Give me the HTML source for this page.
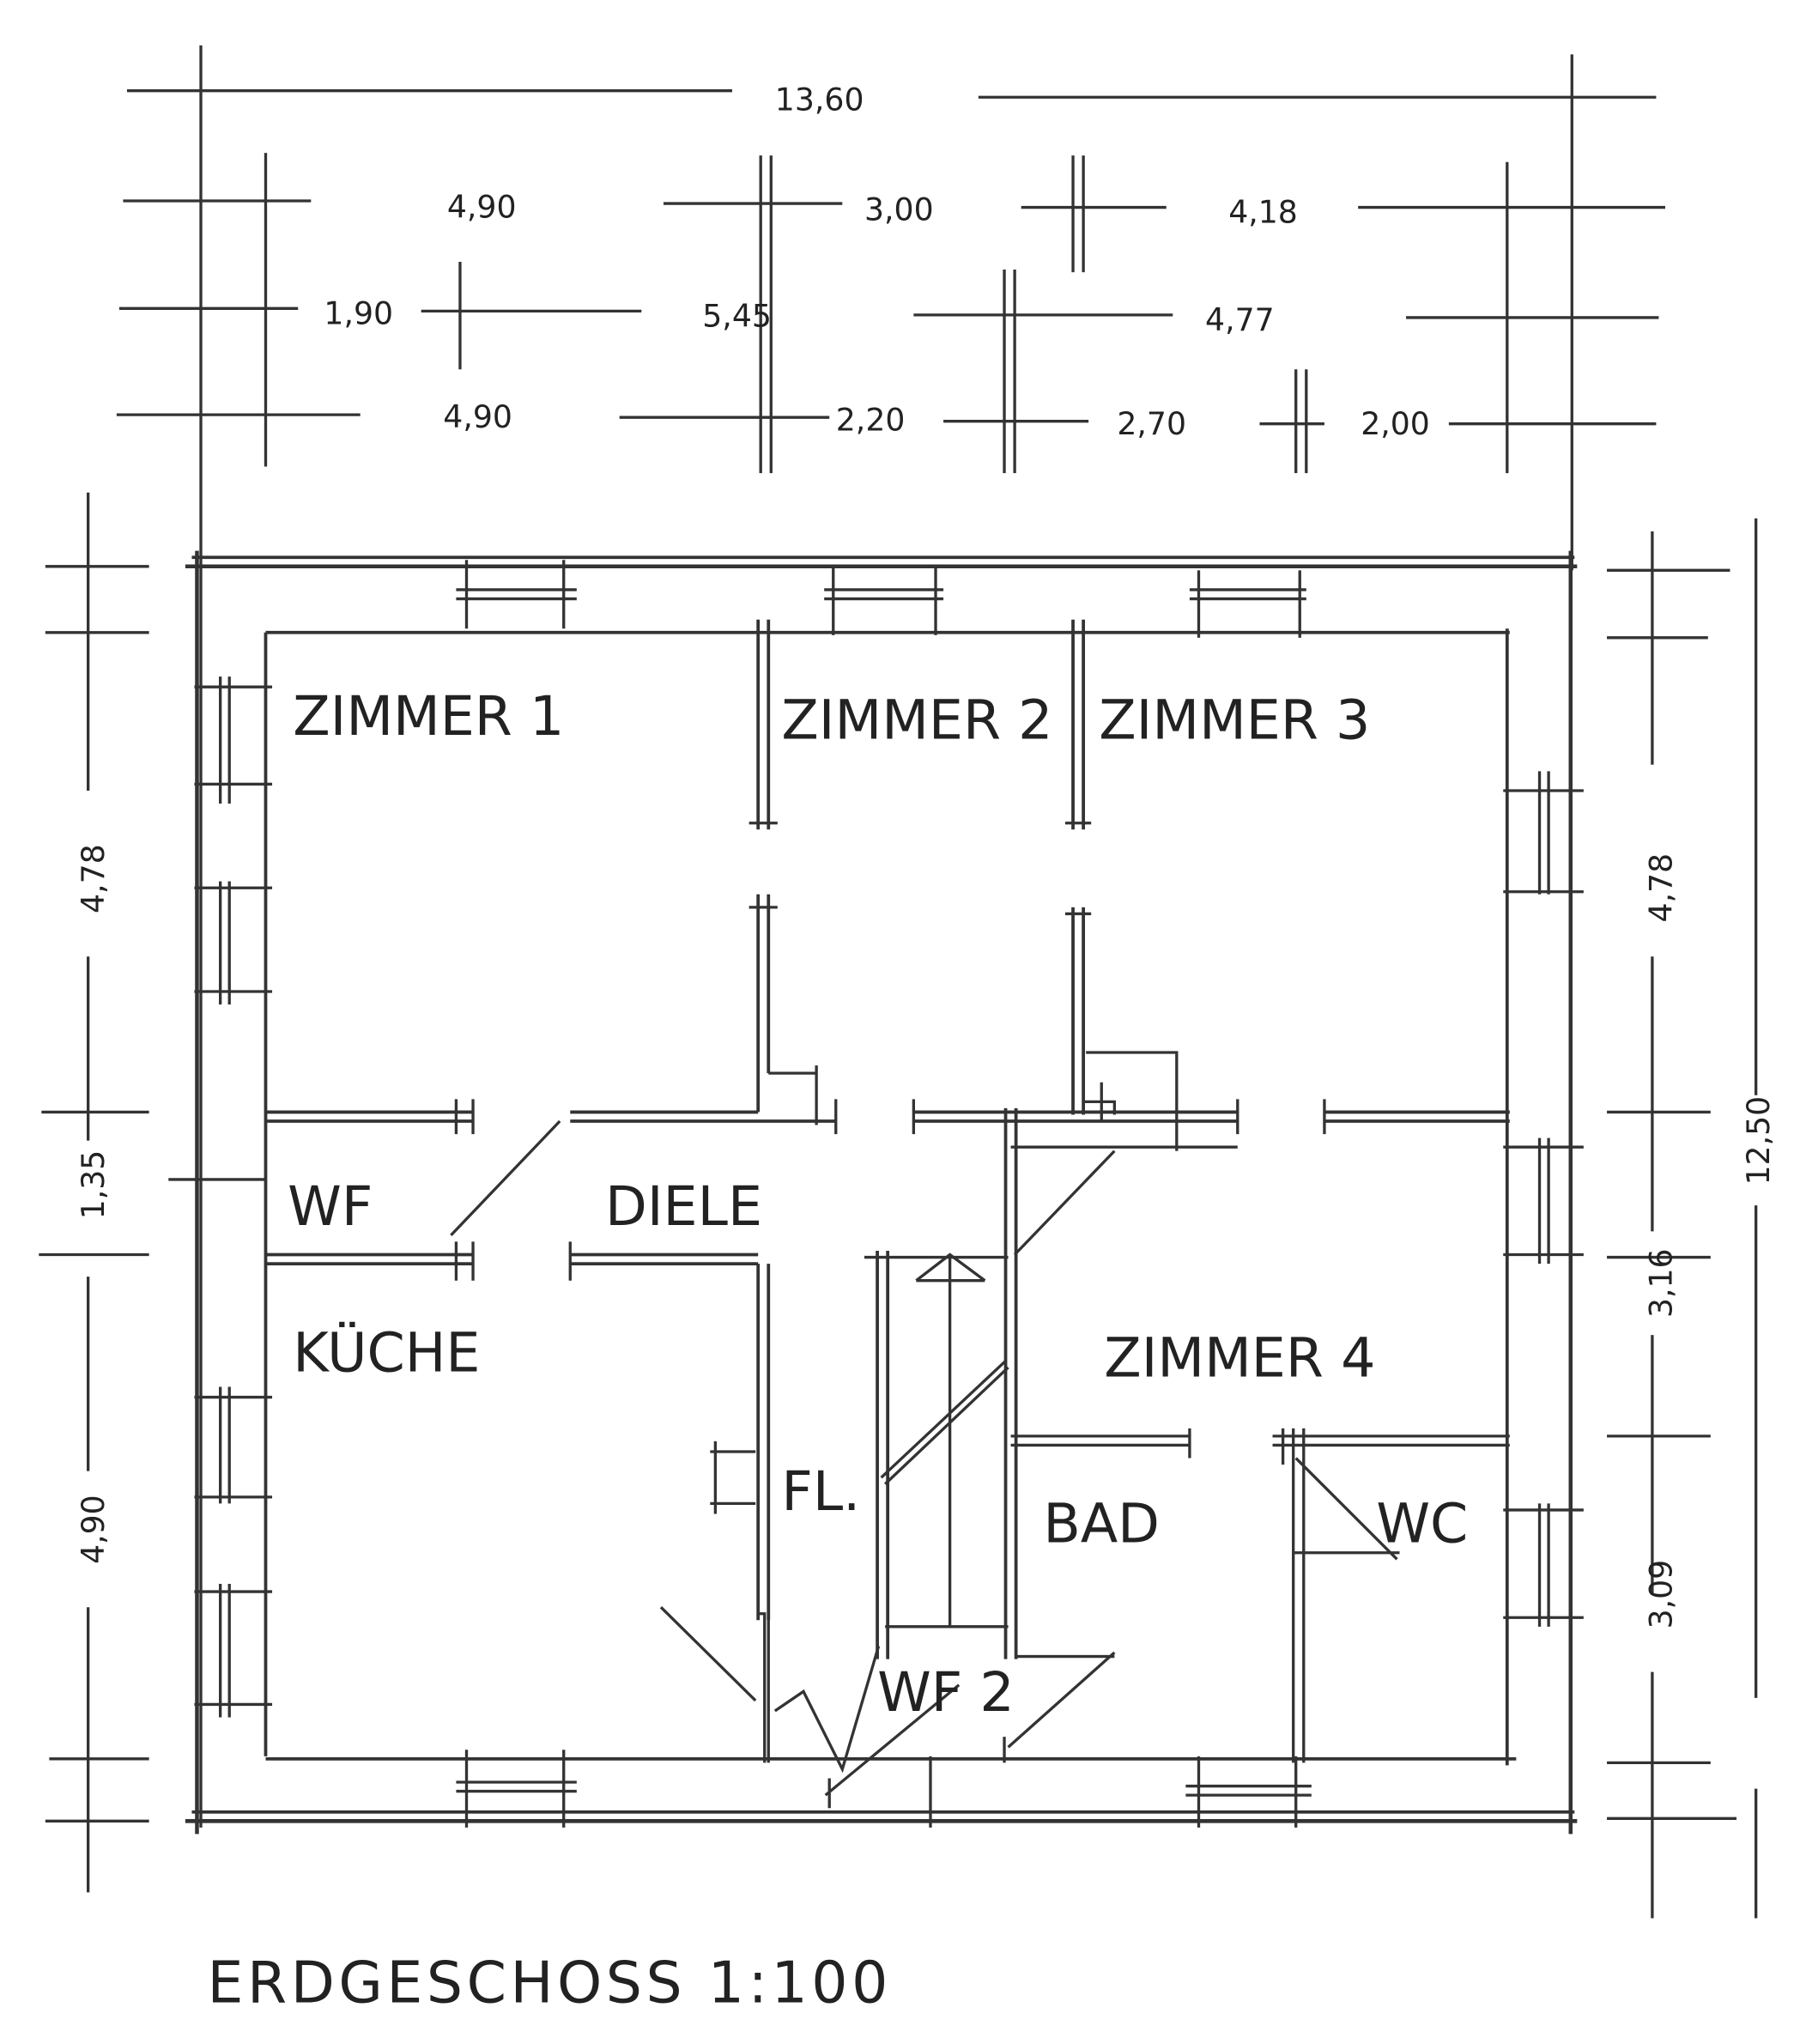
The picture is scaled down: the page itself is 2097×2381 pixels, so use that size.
<!DOCTYPE html><html><head><style>html,body{margin:0;padding:0;background:#fff}svg{display:block}
text{font-family:"DejaVu Sans","Liberation Sans",sans-serif;fill:#222}</style></head><body>
<svg width="2097" height="2381" viewBox="0 0 1389 1577" preserveAspectRatio="none" xmlns="http://www.w3.org/2000/svg">
<g stroke="#333" stroke-width="2.2" fill="none">
<path d="M98 70H565M755 75H1278"/>
<path d="M95 155H240M512 157H650M788 160H900M1048 160H1285"/>
<path d="M92 238H230M325 240H495M705 243H905M1085 245H1280"/>
<path d="M90 320H278M478 322H640M728 325H840M972 327H1022M1118 327H1278"/>
<path d="M155 35V1410M205 118V360M355 202V285M587 120V365M595 120V365M828 120V210M836 120V210M775 208V365M783 208V365M1000 285V365M1008 285V365M1163 125V365M1213 42V440"/>
<path stroke-width="3" d="M143 437H1217M143 1405H1217M152 425V1415M1212 425V1415"/>
<path stroke-width="2.5" d="M148 430H1215M148 1398H1215"/>
<path stroke-width="2.5" d="M205 488H1165M205 1357H1170M205 488V1355M1163 485V1362"/>
<path d="M352 455H445M352 462H445M360 432V485M435 432V485M636 455H728M636 462H728M643 438V490M722 438V490M918 455H1008M918 462H1008M925 440V492M1003 440V492"/>
<path d="M352 1375H445M352 1382H445M360 1350V1410M435 1350V1410M915 1378H1012M915 1385H1012M925 1355V1410M1000 1355V1410"/>
<path d="M170 522V620M177 522V620M150 530H210M150 605H210M170 680V775M177 680V775M150 685H210M150 765H210M170 1070V1160M177 1070V1160M150 1078H210M150 1155H210M170 1222V1325M177 1222V1325M150 1228H210M150 1315H210"/>
<path d="M1188 595V690M1195 595V690M1160 610H1222M1160 688H1222M1188 878V975M1195 878V975M1160 885H1222M1160 968H1222M1188 1160V1255M1195 1160V1255M1160 1165H1222M1160 1248H1222"/>
<path stroke-width="2.5" d="M585 478V640M593 478V640M585 690V858M593 690V828M828 478V640M836 478V640M828 700V860M836 700V860"/>
<path d="M578 635H600M578 700H600M822 635H842M822 705H842M593 828H630V860M630 822V868M836 850H860V860M838 812H908V888M850 835V865"/>
<path stroke-width="2.5" d="M205 858H365M205 865H365M440 858H585M440 865H645M705 858H955M705 865H955M1022 858H1165M1022 865H1165"/>
<path stroke-width="2.5" d="M205 968H365M205 975H365M440 968H585M440 975H585"/>
<path d="M365 848V875M352 848V875M365 958V988M352 958V988M440 958V988M645 848V875M705 848V875M955 848V875M1022 848V875M780 885H955"/>
<path d="M348 953L432 865"/>
<path stroke-width="2.5" d="M585 975V1250M593 975V1250M677 965V1280M685 965V1280M776 855V1280M784 855V1280"/>
<path d="M667 970H778M707 988H760M733 968V1255M707 988L733 968L760 988M680 1140L776 1050M683 1145L778 1055M683 1255H778M548 1120H583M548 1160H583M552 1112V1168M783 968L860 888M780 1108H918M780 1115H918M918 1102V1125M982 1108H1165M982 1115H1165M990 1102V1130M998 1102V1360M1006 1102V1360M998 1198H1080M1000 1125L1078 1203M510 1240L583 1312M585 1245H590V1360M593 1245V1360M598 1320L620 1305L650 1365L678 1270M637 1385L740 1300M718 1355V1410M778 1348L860 1275M783 1278H860M775 1340V1360M640 1372V1395"/>
<path d="M68 380V610M68 738V880M68 985V1135M68 1240V1460M35 437H115M35 488H115M32 858H115M30 968H115M38 1357H115M35 1405H115M130 910H205"/>
<path d="M1275 410V590M1275 738V950M1275 1030V1230M1275 1290V1480M1355 400V845M1355 930V1310M1355 1380V1480M1240 440H1335M1240 492H1318M1240 858H1320M1240 970H1320M1240 1108H1320M1240 1360H1320M1240 1403H1340"/>
</g>
<g font-size="24">
<text x="598" y="85">13,60</text>
<text x="345" y="168">4,90</text>
<text x="667" y="170">3,00</text>
<text x="948" y="172">4,18</text>
<text x="250" y="250">1,90</text>
<text x="542" y="252">5,45</text>
<text x="930" y="255">4,77</text>
<text x="342" y="330">4,90</text>
<text x="645" y="332">2,20</text>
<text x="862" y="335">2,70</text>
<text x="1050" y="335">2,00</text>
<text transform="translate(80,678) rotate(-90)" text-anchor="middle">4,78</text>
<text transform="translate(80,914) rotate(-90)" text-anchor="middle">1,35</text>
<text transform="translate(80,1180) rotate(-90)" text-anchor="middle">4,90</text>
<text transform="translate(1290,685) rotate(-90)" text-anchor="middle">4,78</text>
<text transform="translate(1290,990) rotate(-90)" text-anchor="middle">3,16</text>
<text transform="translate(1290,1230) rotate(-90)" text-anchor="middle">3,09</text>
<text transform="translate(1365,880) rotate(-90)" text-anchor="middle">12,50</text>
</g>
<g font-size="42" style="font-family:'DejaVu Sans Condensed','DejaVu Sans',sans-serif">
<text x="226" y="567">ZIMMER 1</text>
<text x="603" y="570">ZIMMER 2</text>
<text x="848" y="570">ZIMMER 3</text>
<text x="222" y="945">WF</text>
<text x="467" y="945">DIELE</text>
<text x="226" y="1058">KÜCHE</text>
<text x="852" y="1062">ZIMMER 4</text>
<text x="603" y="1165">FL.</text>
<text x="805" y="1190">BAD</text>
<text x="1062" y="1190">WC</text>
<text x="677" y="1320">WF 2</text>
<text x="160" y="1545" font-size="44" letter-spacing="3">ERDGESCHOSS 1:100</text>
</g>
</svg></body></html>
